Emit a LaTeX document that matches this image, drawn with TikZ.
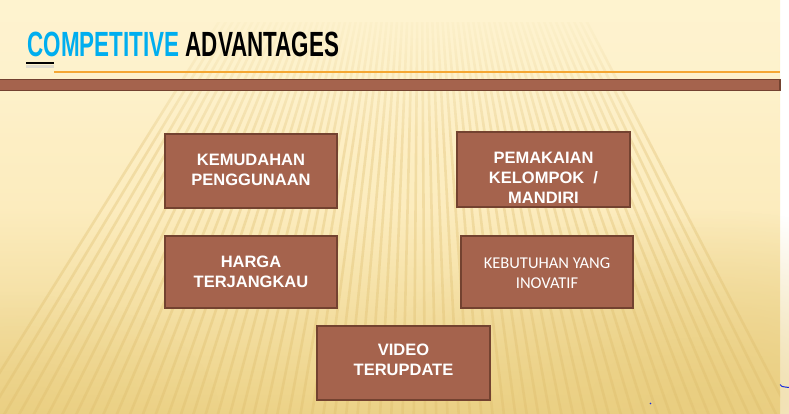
\documentclass[tikz,border=0pt]{standalone}
\usepackage{fontspec}
\setmainfont{Liberation Sans}
\newfontfamily\titlefont{Liberation Sans}[FakeStretch=0.64]
\newfontfamily\calfont{Carlito}
\usetikzlibrary{fadings}
\definecolor{bgtop}{RGB}{254,243,207}
\definecolor{bgmid}{RGB}{252,236,190}
\definecolor{bgbot}{RGB}{236,210,135}
\definecolor{gold}{RGB}{232,204,125}
\definecolor{stripe}{RGB}{220,186,104}
\definecolor{boxfill}{RGB}{165,99,77}
\definecolor{boxline}{RGB}{115,66,48}
\definecolor{titleblue}{RGB}{0,174,239}
\definecolor{orangeline}{RGB}{245,167,51}
\definecolor{markblue}{RGB}{20,40,220}
\tikzfading[name=glowfade, inner color=transparent!0, outer color=transparent!100]
\tikzset{
  card/.style={draw=boxline, fill=boxfill, line width=1.8pt, inner sep=0pt},
  cardtext/.style={text=white, font=\bfseries\fontsize{16.5}{20}\selectfont, align=center, inner sep=0pt},
  cardtextlight/.style={text=white, font=\calfont\fontsize{16.5}{20}\selectfont, align=center, inner sep=0pt},
}
\begin{document}
\begin{tikzpicture}[x=1pt,y=-1pt]
\useasboundingbox (0,0) rectangle (789,414);
\fill[white] (0,0) rectangle (789,414);
% background
\shade[top color=bgtop, bottom color=bgbot, middle color=bgmid] (0,0) rectangle (780,414);
\fill[gold, opacity=0.75, path fading=glowfade] (700,400) ellipse (330 and 190);
\fill[gold, opacity=0.45, path fading=glowfade] (20,414) ellipse (200 and 120);
\begin{scope}
  \clip (0,18) rectangle (780,414);
  \foreach \a in {-32,-31.1,...,28}{
    \draw[stripe, line width=2.6pt, opacity=0.33] (420,-300) -- ({420+1200*sin(\a)},{-300+1200*cos(\a)});
  }
\end{scope}
\fill[bgtop, path fading=south] (0,0) rectangle (780,150);
\fill[bgtop] (0,0) rectangle (780,22);
% title
\node[anchor=base west, inner sep=0pt, font=\titlefont\bfseries\fontsize{35}{40}\selectfont] (title) at (27.5,57)
  {\textcolor{titleblue}{COMPETITIVE} ADVANTAGES};
\fill[gray!40, opacity=0.6] (26,65) rectangle (54,68);
\draw[black, line width=2pt] (26,63) -- (54,63);
\draw[orangeline, line width=1.6pt] (54,72) -- (780,72);
\draw[boxline, fill=boxfill, line width=1.2pt] (-2,79.5) rectangle (780,90.5);
% boxes
\node[card, minimum width=172pt, minimum height=74pt] (b1) at (251,171) {};
\node[cardtext] (t1) at (251,170) {KEMUDAHAN\\PENGGUNAAN};
\node[card, minimum width=173pt, minimum height=75pt] (b2) at (543.5,169.5) {};
\node[cardtext] (t2) at (543.5,178) {PEMAKAIAN\\KELOMPOK \ /\\MANDIRI};
\node[card, minimum width=172pt, minimum height=72pt] (b3) at (251,272) {};
\node[cardtext] (t3) at (251,272) {HARGA\\TERJANGKAU};
\node[card, minimum width=172pt, minimum height=72pt] (b4) at (547,272) {};
\node[cardtextlight] (t4) at (547,273) {KEBUTUHAN YANG\\INOVATIF};
\node[card, minimum width=173pt, minimum height=74pt] (b5) at (403.5,363) {};
\node[cardtext] (t5) at (403.5,360) {VIDEO\\TERUPDATE};
% small marks
\draw[markblue, line width=1pt] (780,384.5) .. controls (781,386.5) .. (789,387.5);
\fill[markblue] (650.5,403.5) circle (0.8);
\end{tikzpicture}
\end{document}
